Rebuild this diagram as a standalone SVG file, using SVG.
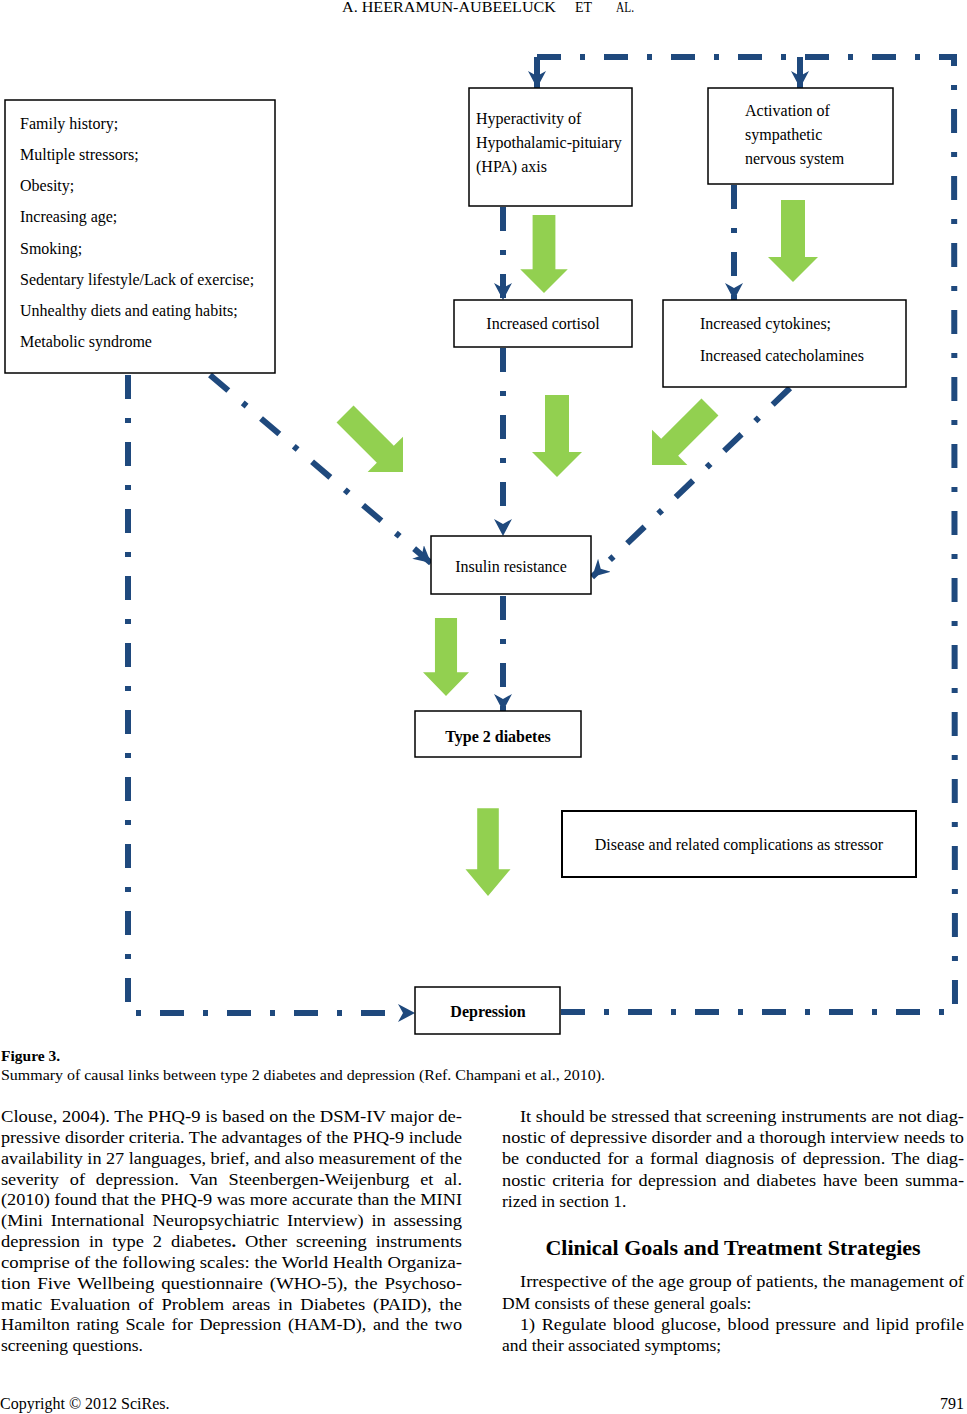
<svg xmlns="http://www.w3.org/2000/svg" width="967" height="1414" viewBox="0 0 967 1414">
<style>
.box{fill:#fff;stroke:#000;stroke-width:1.5}
.t{font-family:"Liberation Serif","Times New Roman",serif;font-size:16px;fill:#000}
.b{font-weight:bold}
.mid{text-anchor:middle}
.dl{fill:none;stroke:#1F497D;stroke-width:6;stroke-dasharray:24 19 5 19}
.sl{fill:none;stroke:#1F497D;stroke-width:6}
.g{fill:#92D050}
.body{font-family:"Liberation Serif","Times New Roman",serif;font-size:17.5px;fill:#000}
</style>
<defs>
<marker id="ah" markerUnits="userSpaceOnUse" markerWidth="18" markerHeight="18" refX="17" refY="9" orient="auto" viewBox="0 0 18 18">
<path d="M0,0 L17,9 L0,18 L5,9 z" fill="#1F497D"/>
</marker>
<polygon id="garrow" points="-12,-82 12,-82 12,-25 25,-25 0,0 -25,-25 -12,-25"/>
</defs>
<rect width="967" height="1414" fill="#fff"/>

<g id="connectors">
<path class="dl" d="M537,57 L954,57 L955,1012 L560,1012"/>
<path class="sl" d="M537,57 L537,88" marker-end="url(#ah)"/>
<path class="sl" d="M800,57 L800,88" marker-end="url(#ah)"/>
<path class="dl" d="M128,375 L128,1013 L415,1013" marker-end="url(#ah)"/>
<path class="dl" d="M503,207 L503,300" marker-end="url(#ah)"/>
<path class="dl" d="M734,185 L734,300" marker-end="url(#ah)"/>
<path class="dl" d="M503,348 L503,536" marker-end="url(#ah)"/>
<path class="dl" d="M503,596 L503,711" marker-end="url(#ah)"/>
<path class="dl" d="M210,375 L431,563" marker-end="url(#ah)"/>
<path class="dl" d="M790,388 L592,577" marker-end="url(#ah)"/>
</g>

<g id="green-arrows" class="g">
<use href="#garrow" transform="translate(544,293) scale(0.95,0.95)"/>
<use href="#garrow" transform="translate(793,282)"/>
<use href="#garrow" transform="translate(557,477)"/>
<use href="#garrow" transform="translate(403,472) rotate(-45)"/>
<use href="#garrow" transform="translate(652,465) rotate(45)"/>
<use href="#garrow" transform="translate(446,696) scale(0.92,0.95)"/>
<use href="#garrow" transform="translate(488,896) scale(0.9,1.07)"/>
</g>

<g id="risk-factors">
<rect class="box" x="5" y="100" width="270" height="273"/>
<text class="t" x="20" y="129">Family history;</text>
<text class="t" x="20" y="160">Multiple stressors;</text>
<text class="t" x="20" y="191">Obesity;</text>
<text class="t" x="20" y="222">Increasing age;</text>
<text class="t" x="20" y="254">Smoking;</text>
<text class="t" x="20" y="285">Sedentary lifestyle/Lack of exercise;</text>
<text class="t" x="20" y="316">Unhealthy diets and eating habits;</text>
<text class="t" x="20" y="347">Metabolic syndrome</text>
</g>

<g id="hpa">
<rect class="box" x="469" y="88" width="163" height="118"/>
<text class="t" x="476" y="124">Hyperactivity of</text>
<text class="t" x="476" y="148">Hypothalamic-pituiary</text>
<text class="t" x="476" y="172">(HPA) axis</text>
</g>

<g id="sympathetic">
<rect class="box" x="708" y="88" width="185" height="96"/>
<text class="t" x="745" y="116">Activation of</text>
<text class="t" x="745" y="140">sympathetic</text>
<text class="t" x="745" y="164">nervous system</text>
</g>

<g id="cortisol">
<rect class="box" x="454" y="300" width="178" height="47"/>
<text class="t mid" x="543" y="329">Increased cortisol</text>
</g>

<g id="cytokines">
<rect class="box" x="663" y="300" width="243" height="87"/>
<text class="t" x="700" y="329">Increased cytokines;</text>
<text class="t" x="700" y="361">Increased catecholamines</text>
</g>

<g id="insulin">
<rect class="box" x="431" y="536" width="160" height="58"/>
<text class="t mid" x="511" y="572">Insulin resistance</text>
</g>

<g id="t2d">
<rect class="box" x="415" y="711" width="166" height="46"/>
<text class="t b mid" x="498" y="742">Type 2 diabetes</text>
</g>

<g id="stressor">
<rect class="box" x="562" y="811" width="354" height="66" style="stroke-width:2"/>
<text class="t mid" x="739" y="850">Disease and related complications as stressor</text>
</g>

<g id="depression">
<rect class="box" x="415" y="987" width="145" height="47"/>
<text class="t b mid" x="488" y="1017">Depression</text>
</g>

<g id="page-text">
<text class="body" x="342" y="12" style="font-size:15px" textLength="214" lengthAdjust="spacingAndGlyphs">A. HEERAMUN-AUBEELUCK</text>
<text class="body" x="575" y="12" style="font-size:15px" textLength="17" lengthAdjust="spacingAndGlyphs">ET</text>
<text class="body" x="616" y="12" style="font-size:15px" textLength="18" lengthAdjust="spacingAndGlyphs">AL.</text>
<text class="body b" x="1" y="1061" style="font-size:15.5px">Figure 3.</text>
<text class="body" x="1" y="1080" style="font-size:15px" textLength="604" lengthAdjust="spacingAndGlyphs">Summary of causal links between type 2 diabetes and depression (Ref. Champani et al., 2010).</text>

<text class="body" x="1" y="1122" textLength="461" lengthAdjust="spacingAndGlyphs">Clouse, 2004). The PHQ-9 is based on the DSM-IV major de-</text>
<text class="body" x="1" y="1143" textLength="461" lengthAdjust="spacingAndGlyphs">pressive disorder criteria. The advantages of the PHQ-9 include</text>
<text class="body" x="1" y="1164" textLength="461" lengthAdjust="spacingAndGlyphs">availability in 27 languages, brief, and also measurement of the</text>
<text class="body" x="1" y="1185" textLength="461" lengthAdjust="spacingAndGlyphs" style="word-spacing:6px">severity of depression. Van Steenbergen-Weijenburg et al.</text>
<text class="body" x="1" y="1205" textLength="461" lengthAdjust="spacingAndGlyphs">(2010) found that the PHQ-9 was more accurate than the MINI</text>
<text class="body" x="1" y="1226" textLength="461" lengthAdjust="spacingAndGlyphs" style="word-spacing:3px">(Mini International Neuropsychiatric Interview) in assessing</text>
<text class="body" x="1" y="1247" textLength="461" lengthAdjust="spacingAndGlyphs" style="word-spacing:4px">depression in type 2 diabetes<tspan class="b">.</tspan> Other screening instruments</text>
<text class="body" x="1" y="1268" textLength="461" lengthAdjust="spacingAndGlyphs">comprise of the following scales: the World Health Organiza-</text>
<text class="body" x="1" y="1289" textLength="461" lengthAdjust="spacingAndGlyphs" style="word-spacing:2px">tion Five Wellbeing questionnaire (WHO-5), the Psychoso-</text>
<text class="body" x="1" y="1310" textLength="461" lengthAdjust="spacingAndGlyphs" style="word-spacing:3px">matic Evaluation of Problem areas in Diabetes (PAID), the</text>
<text class="body" x="1" y="1330" textLength="461" lengthAdjust="spacingAndGlyphs" style="word-spacing:2px">Hamilton rating Scale for Depression (HAM-D), and the two</text>
<text class="body" x="1" y="1351">screening questions.</text>

<text class="body" x="520" y="1122" textLength="444" lengthAdjust="spacingAndGlyphs">It should be stressed that screening instruments are not diag-</text>
<text class="body" x="502" y="1143" textLength="462" lengthAdjust="spacingAndGlyphs">nostic of depressive disorder and a thorough interview needs to</text>
<text class="body" x="502" y="1164" textLength="462" lengthAdjust="spacingAndGlyphs" style="word-spacing:2px">be conducted for a formal diagnosis of depression. The diag-</text>
<text class="body" x="502" y="1186" textLength="462" lengthAdjust="spacingAndGlyphs" style="word-spacing:2px">nostic criteria for depression and diabetes have been summa-</text>
<text class="body" x="502" y="1207">rized in section 1.</text>
<text class="body b mid" x="733" y="1255" style="font-size:22px">Clinical Goals and Treatment Strategies</text>
<text class="body" x="520" y="1287" textLength="444" lengthAdjust="spacingAndGlyphs">Irrespective of the age group of patients, the management of</text>
<text class="body" x="502" y="1309">DM consists of these general goals:</text>
<text class="body" x="520" y="1330" textLength="444" lengthAdjust="spacingAndGlyphs" style="word-spacing:2px">1) Regulate blood glucose, blood pressure and lipid profile</text>
<text class="body" x="502" y="1351">and their associated symptoms;</text>

<text class="body" x="0" y="1409" style="font-size:16px">Copyright © 2012 SciRes.</text>
<text class="body" x="964" y="1409" style="font-size:16px;text-anchor:end">791</text>
</g>
</svg>
